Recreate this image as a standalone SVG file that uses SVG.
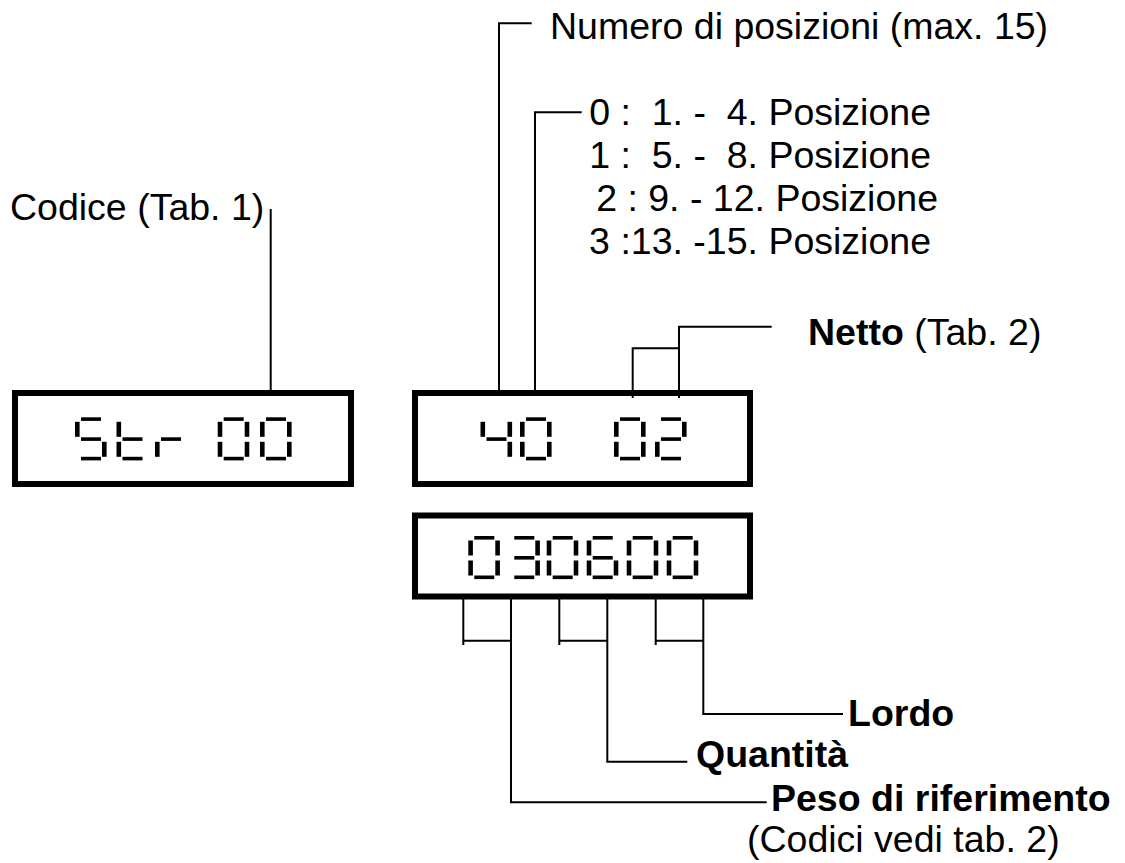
<svg xmlns="http://www.w3.org/2000/svg" xmlns:xlink="http://www.w3.org/1999/xlink" width="1125" height="863" viewBox="0 0 1125 863">
<style>
.box{fill:none;stroke:#000;stroke-width:6}
.ln{fill:none;stroke:#000;stroke-width:2}
.t{font-family:"Liberation Sans",Arial,sans-serif;font-size:37.5px;fill:#000;white-space:pre}
.b{font-weight:bold}
.seg{fill:#000}
</style>
<defs>
<rect id="h" class="seg" width="20" height="3.6"/>
<rect id="v" class="seg" width="4.6" height="15"/>
<g id="sa"><use href="#h" x="6" y="0"/></g>
<g id="sb"><use href="#v" x="27" y="4.5"/></g>
<g id="sc"><use href="#v" x="27" y="24.5"/></g>
<g id="sd"><use href="#h" x="6" y="39.5"/></g>
<g id="se"><use href="#v" x="0" y="24.5"/></g>
<g id="sf"><use href="#v" x="0" y="4.5"/></g>
<g id="sg"><use href="#h" x="6" y="20"/></g>
<g id="d0"><use href="#sa"/><use href="#sb"/><use href="#sc"/><use href="#sd"/><use href="#se"/><use href="#sf"/></g>
<g id="d2"><use href="#sa"/><use href="#sb"/><use href="#sg"/><use href="#se"/><use href="#sd"/></g>
<g id="d3"><use href="#sa"/><use href="#sb"/><use href="#sg"/><use href="#sc"/><use href="#sd"/></g>
<g id="d4"><use href="#sf"/><use href="#sg"/><use href="#sb"/><use href="#sc"/></g>
<g id="d6"><use href="#sa"/><use href="#sf"/><use href="#sg"/><use href="#se"/><use href="#sc"/><use href="#sd"/></g>
<g id="dS"><use href="#sa"/><use href="#sf"/><use href="#sg"/><use href="#sc"/><use href="#sd"/></g>
<g id="dt"><use href="#sf"/><use href="#se"/><use href="#sg"/><use href="#sd"/></g>
<g id="dr"><use href="#se"/><use href="#sg"/></g>
</defs>
<rect width="1125" height="863" fill="#fff"/>

<g id="display1">
<rect class="box" x="15" y="393" width="336" height="91"/>
<use href="#dS" x="75" y="417.3"/>
<use href="#dt" x="116.5" y="417.3"/>
<use href="#dr" x="155" y="417.3"/>
<use href="#d0" x="217.7" y="417.3"/>
<use href="#d0" x="260" y="417.3"/>
</g>

<g id="display2">
<rect class="box" x="415" y="393" width="335" height="91"/>
<use href="#d4" x="480.5" y="417.3"/>
<use href="#d0" x="520" y="417.3"/>
<use href="#d0" x="614" y="417.3"/>
<use href="#d2" x="655" y="417.3"/>
</g>

<g id="display3">
<rect class="box" x="415" y="515.5" width="335" height="81"/>
<use href="#d0" x="468.3" y="536"/>
<use href="#d3" x="508.3" y="536"/>
<use href="#d0" x="546.7" y="536"/>
<use href="#d6" x="586.7" y="536"/>
<use href="#d0" x="626.7" y="536"/>
<use href="#d0" x="666.7" y="536"/>
</g>

<g id="connectors">
<path class="ln" d="M270.7,390 V209"/>
<path class="ln" d="M499,390 V23.3 H531.7"/>
<path class="ln" d="M535,390 V112.3 H581.7"/>
<path class="ln" d="M632.7,398 V348.3 H679"/>
<path class="ln" d="M679,398 V326.7 H771.7"/>
<path class="ln" d="M463.3,598 V645 M463.3,640.7 H511"/>
<path class="ln" d="M511,598 V802.3 H766.7"/>
<path class="ln" d="M559.3,598 V645 M559.3,640.7 H607.3"/>
<path class="ln" d="M607.3,598 V761.7 H687.3"/>
<path class="ln" d="M655.7,598 V645 M655.7,640.7 H703.3"/>
<path class="ln" d="M703.3,598 V714 H843"/>
</g>

<g id="label-codice"><text class="t" x="10" y="220">Codice (Tab. 1)</text></g>
<g id="label-numero"><text class="t" x="550" y="39">Numero di posizioni (max. 15)</text></g>
<g id="label-list">
<text class="t" x="931" y="125" text-anchor="end">0 :  1. -  4. Posizione</text>
<text class="t" x="931" y="168" text-anchor="end">1 :  5. -  8. Posizione</text>
<text class="t" x="938" y="211" text-anchor="end">2 : 9. - 12. Posizione</text>
<text class="t" x="931" y="254" text-anchor="end">3 :13. -15. Posizione</text>
</g>
<g id="label-netto"><text class="t" x="808" y="345"><tspan class="b">Netto</tspan> (Tab. 2)</text></g>
<g id="label-lordo"><text class="t b" x="848" y="726">Lordo</text></g>
<g id="label-quantita"><text class="t b" x="696" y="767">Quantità</text></g>
<g id="label-peso">
<text class="t b" x="771" y="811">Peso di riferimento</text>
<text class="t" x="747" y="852">(Codici vedi tab. 2)</text>
</g>
</svg>
